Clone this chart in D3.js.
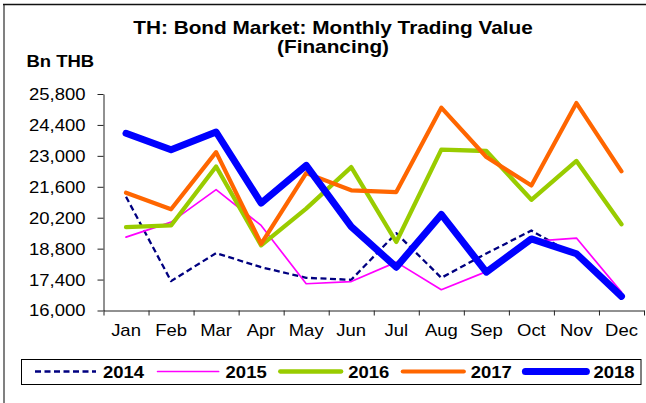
<!DOCTYPE html>
<html>
<head>
<meta charset="utf-8">
<script src="https://cdn.jsdelivr.net/npm/d3@7"></script>
<style>
  html, body { margin: 0; padding: 0; background: #fff; }
  svg { display: block; }
  text { font-family: "Liberation Sans", Arial, Helvetica, sans-serif; fill: #000; }
</style>
</head>
<body>
<svg id="chart" width="646" height="403"></svg>
<script>
// Monthly trading value (Bn THB), financing
const months = ["Jan", "Feb", "Mar", "Apr", "May", "Jun", "Jul", "Aug", "Sep", "Oct", "Nov", "Dec"];
const years = ["2014", "2015", "2016", "2017", "2018"];
const v2014 = [21150, 17330, 18600, 17960, 17480, 17390, 19500, 17480, 18580, 19620, 18450, 16770];
const v2015 = [19320, 20000, 21470, 19850, 17210, 17310, 18190, 16940, 17760, 19130, 19280, 16830];
const v2016 = [19770, 19850, 22520, 18950, 20610, 22490, 19100, 23280, 23220, 21010, 22770, 19900];
const v2017 = [21330, 20580, 23170, 19020, 22220, 21440, 21360, 25180, 22950, 21660, 25390, 22300];
const v2018 = [24020, 23280, 24080, 20860, 22570, 19800, 17960, 20350, 17740, 19240, 18570, 16640];
const yTicks = [16000, 17400, 18800, 20200, 21600, 23000, 24400, 25800];

const seriesValues = [v2014, v2015, v2016, v2017, v2018];
const seriesStyle = [
  { color: "#000080", width: 2.3, dash: "6,3.5" },
  { color: "#FF00FF", width: 1.7, dash: null },
  { color: "#99CC00", width: 4.3, dash: null },
  { color: "#FF6600", width: 4.2, dash: null },
  { color: "#0000FF", width: 7,   dash: null }
];

const svg = d3.select("#chart");
const SX = 1.155; // horizontal stretch applied to all lettering

svg.append("rect").attr("width", 646).attr("height", 403).attr("fill", "#fff");

// frame edges
svg.append("line").attr("x1", 4).attr("x2", 4).attr("y1", 4).attr("y2", 403)
  .attr("stroke", "#808080").attr("stroke-width", 2);
svg.append("line").attr("x1", 3).attr("x2", 646).attr("y1", 4.5).attr("y2", 4.5)
  .attr("stroke", "#111").attr("stroke-width", 1.6);

function label(sel, x, y, str, opts) {
  const t = sel.append("text")
    .attr("transform", `translate(${x},${y}) scale(${SX},1)`)
    .attr("font-size", opts.size)
    .attr("font-weight", opts.bold ? "bold" : "normal")
    .attr("text-anchor", opts.anchor || "start")
    .text(str);
  return t;
}

// titles
label(svg, 333, 34, "TH: Bond Market: Monthly Trading Value", { size: 18, bold: true, anchor: "middle" });
label(svg, 333, 52.5, "(Financing)", { size: 18, bold: true, anchor: "middle" });
label(svg, 26.5, 67, "Bn THB", { size: 16, bold: true });

// scales
const x0 = 103.5, x1 = 644;
const x = d3.scaleBand().domain(months).range([x0, x1]).paddingInner(0).paddingOuter(0);
const xEdge = d3.scaleLinear().domain([0, months.length]).range([x0, x1]);
const y = d3.scaleLinear().domain([16000, 25800]).range([310.5, 94]);

const axisColor = "#222";

// y axis
const gy = svg.append("g").attr("transform", `translate(${x0},0)`)
  .call(d3.axisLeft(y).tickValues(yTicks).tickSize(6).tickSizeOuter(0)
    .tickFormat(d3.format(",")));
gy.select(".domain").attr("stroke", axisColor);
gy.selectAll(".tick line").attr("stroke", axisColor);
gy.selectAll(".tick text")
  .attr("x", 0).attr("dy", "0.34em")
  .attr("transform", `translate(-18,0) scale(${SX},1)`)
  .attr("font-size", 16).attr("font-family", null).attr("fill", "#000");

// x axis: tick marks between categories
const gxt = svg.append("g").attr("transform", `translate(0,${y(16000)})`)
  .call(d3.axisBottom(xEdge).tickValues(d3.range(0, months.length + 1)).tickSize(5)
    .tickSizeOuter(0).tickFormat(""));
gxt.select(".domain").attr("stroke", axisColor);
gxt.selectAll(".tick line").attr("stroke", axisColor);

// x axis: month labels centred in each category
const gxl = svg.append("g").attr("transform", `translate(0,${y(16000)})`)
  .call(d3.axisBottom(x).tickSize(0).tickPadding(14));
gxl.select(".domain").remove();
gxl.selectAll(".tick text")
  .attr("transform", `scale(${SX},1)`)
  .attr("x", 0)
  .attr("font-size", 16).attr("font-family", null).attr("fill", "#000");
gxl.selectAll(".tick").each(function () {
  const t = d3.select(this).select("text");
  const yy = +t.attr("y");
  t.attr("y", null).attr("transform", `translate(0,${yy}) scale(${SX},1)`);
});

// series lines
const line = d3.line()
  .x((d, i) => x(months[i]) + x.bandwidth() / 2)
  .y(d => y(d));

seriesValues.forEach((vals, i) => {
  const s = seriesStyle[i];
  svg.append("path")
    .datum(vals)
    .attr("fill", "none")
    .attr("stroke", s.color)
    .attr("stroke-width", s.width)
    .attr("stroke-linejoin", "round")
    .attr("stroke-linecap", s.dash ? "butt" : "round")
    .attr("stroke-dasharray", s.dash)
    .attr("d", line);
});

// legend
const lg = svg.append("g");
lg.append("rect").attr("x", 21.5).attr("y", 359.5).attr("width", 619.5).attr("height", 25)
  .attr("fill", "#fff").attr("stroke", "#000").attr("stroke-width", 1);
years.forEach((yr, i) => {
  const s = seriesStyle[i];
  const sx = 35 + i * 122.6;
  lg.append("line")
    .attr("x1", sx).attr("x2", sx + 61).attr("y1", 371.5).attr("y2", 371.5)
    .attr("stroke", s.color).attr("stroke-width", s.width)
    .attr("stroke-linecap", s.dash ? "butt" : "round")
    .attr("stroke-dasharray", s.dash);
  label(lg, sx + 68, 377.5, yr, { size: 16, bold: true });
});
</script>
</body>
</html>
